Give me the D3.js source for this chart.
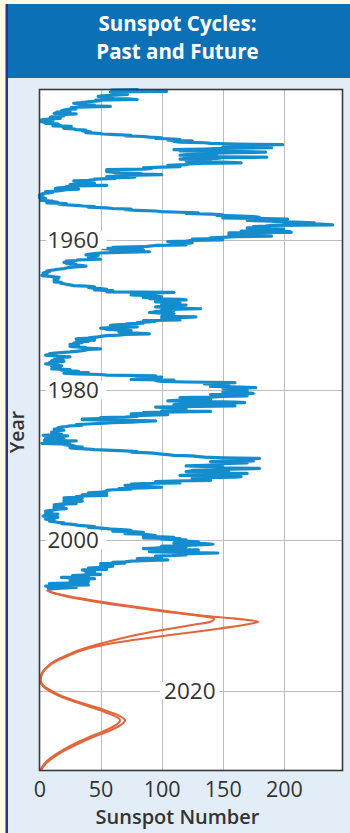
<!DOCTYPE html>
<html>
<head>
<meta charset="utf-8">
<script src="https://cdn.jsdelivr.net/npm/d3@7"></script>
<style>
  html, body { margin: 0; padding: 0; background: #fdfae2; }
  svg { display: block; }
</style>
</head>
<body>
<svg id="chart" width="350" height="833"></svg>
<script>
// Monthly sunspot numbers, January 1940 onward (12 values per year)
const ssn1940s = [
  81,59,77,104,58,64,63,67,72,62,52,48,
  60,55,50,72,80,46,50,43,38,34,28,33,
  35,45,40,58,32,26,28,30,22,20,18,25,
  14,22,12,30,18,15,20,14,9,12,17,9,
  4,1,11,1,3,5,5,15,14,17,11,26,
  19,25,20,28,30,38,35,40,42,38,48,52,
  62,75,70,85,90,100,95,110,115,105,125,110,
  115,135,140,160,199,155,165,175,150,190,150,135,
  110,125,115,165,185,160,135,140,120,115,145,118,
  186,150,145,115,140,130,120,125,150,165,130,120
];
const ssn1950s = [
  120,105,110,115,100,85,92,85,55,65,55,55,
  60,62,80,85,100,70,75,55,78,55,62,45,
  45,40,28,36,32,40,45,30,25,55,30,22,
  27,17,13,32,22,18,15,5,11,8,3,2,
  0,1,0,3,1,0,5,2,1,1,10,11,
  15,6,22,16,20,30,36,45,40,55,60,75,
  70,80,95,100,115,130,120,140,150,145,165,175,
  180,150,185,203,175,170,190,195,215,225,200,230,
  240,190,185,175,185,170,190,200,195,180,165,205,
  206,155,175,180,155,165,190,160,150,140,150,125
];
const ssn1960s = [
  150,125,120,105,110,125,115,110,120,95,90,85,
  60,62,52,60,85,70,58,90,65,50,45,40,
  38,48,45,40,42,40,45,50,32,30,22,25,
  20,28,22,30,28,35,38,32,25,22,20,15,
  12,8,6,8,5,3,6,4,3,2,7,12,
  16,12,15,12,15,12,14,12,18,17,20,22,
  25,28,38,45,40,44,50,55,45,60,55,55,
  110,85,95,90,75,90,95,100,85,100,90,115,
  120,95,100,95,110,115,105,100,120,110,100,95,
  105,110,132,105,100,110,95,95,90,100,110,105
];
const ssn1970s = [
  105,110,100,128,120,100,110,100,115,85,95,90,
  80,85,72,70,60,58,75,80,60,50,55,55,
  70,75,72,65,70,80,90,70,65,55,50,48,
  42,40,30,45,45,35,40,30,35,28,30,25,
  32,28,25,30,38,35,50,40,38,35,30,25,
  18,12,8,10,5,10,15,25,15,20,18,12,
  12,10,20,16,8,10,5,12,13,18,10,15,
  17,12,10,25,18,25,32,23,40,20,30,50,
  55,95,80,100,80,90,80,75,110,95,100,120,
  160,140,135,150,145,155,140,165,177,150,160,170
];
const ssn1980s = [
  155,170,160,150,165,175,160,140,160,170,150,140,
  115,135,125,140,115,105,130,160,168,140,125,110,
  115,160,130,95,110,120,110,105,120,100,140,100,
  85,90,75,105,90,75,80,70,50,55,35,35,
  65,95,85,75,60,50,40,30,35,25,22,18,
  15,18,12,15,20,12,15,10,15,10,18,17,
  3,23,15,18,10,5,20,8,4,30,15,12,
  10,2,25,20,25,28,30,35,25,30,40,45,
  60,70,80,75,90,95,100,105,110,125,130,135,
  150,180,170,155,160,175,140,165,170,155,145,150
];
const ssn1990s = [
  135,120,140,150,145,180,155,150,125,125,120,155,
  140,170,145,140,115,160,165,160,125,130,125,140,
  140,110,95,100,115,85,75,85,70,80,90,100,
  85,65,75,60,55,55,55,48,40,55,45,35,
  55,35,30,30,20,35,25,25,20,35,25,20,
  22,30,18,12,20,15,12,15,12,22,15,12,
  10,5,10,8,5,5,15,10,5,3,10,15,
  8,6,5,12,10,8,12,15,20,18,25,30,
  32,40,45,40,48,55,60,70,75,60,75,85,
  80,70,85,90,95,85,100,110,85,115,100,120
];
const ssn2000s = [
  110,120,130,115,110,135,142,130,120,100,120,105,
  95,85,110,130,100,120,90,115,146,125,110,120,
  110,95,100,100,95,80,90,105,85,75,70,60,
  70,50,60,55,50,60,55,50,40,50,55,35,
  38,42,45,38,38,40,50,40,27,40,40,18,
  30,45,25,25,40,35,40,36,22,8,18,40,
  15,5,10,30,18,12,6
];
const firstYear = 1940;

// Forecast of the next cycles: low and high curves
const predYears = [2006.6,2007.0,2007.5,2008.0,2008.5,2009.0,2009.5,2010.0,2010.4,2010.8,
  2011.2,2011.7,2012.2,2012.9,2013.8,2014.5,2015.3,2016.0,2017.0,2017.8,2018.6,
  2019.4,2020.2,2021.0,2021.8,2022.6,2023.3,2023.9,2024.6,2025.4,2026.2,2027.0,
  2027.9,2028.8,2029.7,2030.6];
const predLow  = [6,12,26,44,64,86,108,130,143,140,
  126,108,90,70,48,34,22,13,5,1.5,0.5,
  3,10,21,35,50,61,66,62,52,40,29,
  19,10,4,0.5];
const predHigh = [6,11,24,41,60,82,105,132,160,179,
  168,148,125,92,55,37,24,14,5.5,2,1,
  4,12,23,38,54,65,70,66,56,43,32,
  21,12,5,1];

const xTicks = [0, 50, 100, 150, 200];
const yTicks = [1960, 1980, 2000, 2020];

const titleLines = ["Sunspot Cycles:", "Past and Future"];
const xTitle = "Sunspot Number";
const yTitle = "Year";

// ---- layout ----
const W = 350, H = 833;
const plot = { left: 39.5, right: 342.5, top: 89.5, bottom: 770.5 };
const svg = d3.select("#chart");

const x = d3.scaleLinear().domain([0, 248]).range([plot.left, plot.right]);
const y = d3.scaleLinear().domain([1940, 2030.6]).range([plot.top, plot.bottom]);

// page background pieces
svg.append("rect").attr("x", 0).attr("y", 0).attr("width", W).attr("height", H).attr("fill", "#fdfae2");
svg.append("rect").attr("x", 8).attr("y", 4).attr("width", W - 8).attr("height", H - 4).attr("fill", "#e3edf7");
svg.append("rect").attr("x", 8).attr("y", 4).attr("width", W - 8).attr("height", 74).attr("fill", "#0c70b6");
svg.append("rect").attr("x", 5.5).attr("y", 4).attr("width", 2.5).attr("height", H - 4).attr("fill", "#2c2c9c");

// title
svg.append("g").selectAll("text").data(titleLines).join("text")
  .attr("x", 177.5).attr("y", (d, i) => 30.5 + i * 28)
  .attr("text-anchor", "middle")
  .attr("font-family", "'Open Sans', sans-serif")
  .attr("font-weight", 700).attr("font-size", 20.5)
  .attr("fill", "#ffffff")
  .text(d => d);

// plot background
svg.append("rect").attr("x", plot.left).attr("y", plot.top)
  .attr("width", plot.right - plot.left).attr("height", plot.bottom - plot.top)
  .attr("fill", "#ffffff");

// grid
const grid = svg.append("g").attr("stroke", "#bdbdbd").attr("stroke-width", 1);
grid.selectAll("line.v").data(xTicks.filter(d => d > 0)).join("line")
  .attr("x1", d => Math.round(x(d)) + 0.5).attr("x2", d => Math.round(x(d)) + 0.5)
  .attr("y1", plot.top).attr("y2", plot.bottom);
grid.selectAll("line.h").data(yTicks).join("line")
  .attr("y1", d => Math.round(y(d)) + 0.5).attr("y2", d => Math.round(y(d)) + 0.5)
  .attr("x1", plot.left).attr("x2", plot.right);

// year labels sit inside the plot; the last one is moved clear of the forecast curve
const yLabelX = d => d === 2020 ? x(123) : x(0) + 8;
const yLabelAnchor = d => d === 2020 ? "middle" : "start";
const yLab = svg.append("g");
yLab.selectAll("rect").data(yTicks).join("rect")
  .attr("x", d => d === 2020 ? x(123) - 30 : x(0) + 7)
  .attr("y", d => y(d) - 9).attr("width", 60).attr("height", 18)
  .attr("fill", "#ffffff");

// observed series
const obs = [].concat(ssn1940s, ssn1950s, ssn1960s, ssn1970s, ssn1980s, ssn1990s, ssn2000s)
  .map((v, i) => ({ year: firstYear + i / 12, value: v }));

const obsLine = d3.line().x(d => x(d.value)).y(d => y(d.year));
svg.append("path").datum(obs)
  .attr("d", obsLine)
  .attr("fill", "none").attr("stroke", "#148dcf").attr("stroke-width", 3.2)
  .attr("stroke-linejoin", "round");

// forecast curves
const predLine = d3.line().x(d => x(d.value)).y(d => y(d.year)).curve(d3.curveMonotoneY);
[predLow, predHigh].forEach(series => {
  svg.append("path").datum(predYears.map((yr, i) => ({ year: yr, value: series[i] })))
    .attr("d", predLine)
    .attr("fill", "none").attr("stroke", "#e2663b").attr("stroke-width", 2.1);
});

yLab.raise();
yLab.selectAll("text").data(yTicks).join("text")
  .attr("x", yLabelX).attr("y", d => y(d) + 8)
  .attr("text-anchor", yLabelAnchor)
  .attr("font-family", "'Open Sans', sans-serif")
  .attr("font-size", 22.5).attr("fill", "#333333")
  .text(d => d);

// frame
svg.append("rect").attr("x", plot.left).attr("y", plot.top)
  .attr("width", plot.right - plot.left).attr("height", plot.bottom - plot.top)
  .attr("fill", "none").attr("stroke", "#3a3a3a").attr("stroke-width", 1.6);

// x axis tick labels
const xAxis = d3.axisBottom(x).tickValues(xTicks).tickSize(0).tickPadding(0).tickFormat(d3.format("d"));
const gx = svg.append("g").attr("transform", `translate(0,${plot.bottom})`).call(xAxis);
gx.select(".domain").remove();
gx.selectAll("text")
  .attr("y", 26.5).attr("dy", 0)
  .attr("font-family", "'Open Sans', sans-serif")
  .attr("font-size", 21.5).attr("fill", "#333333");

// axis titles
svg.append("text").attr("x", 177.5).attr("y", 824)
  .attr("text-anchor", "middle")
  .attr("font-family", "'Open Sans', sans-serif")
  .attr("font-weight", 600).attr("font-size", 20).attr("fill", "#333333")
  .text(xTitle);
svg.append("text")
  .attr("transform", `translate(24,${432}) rotate(-90)`)
  .attr("text-anchor", "middle")
  .attr("font-family", "'Open Sans', sans-serif")
  .attr("font-weight", 600).attr("font-size", 19.5).attr("fill", "#333333")
  .text(yTitle);
</script>
</body>
</html>
